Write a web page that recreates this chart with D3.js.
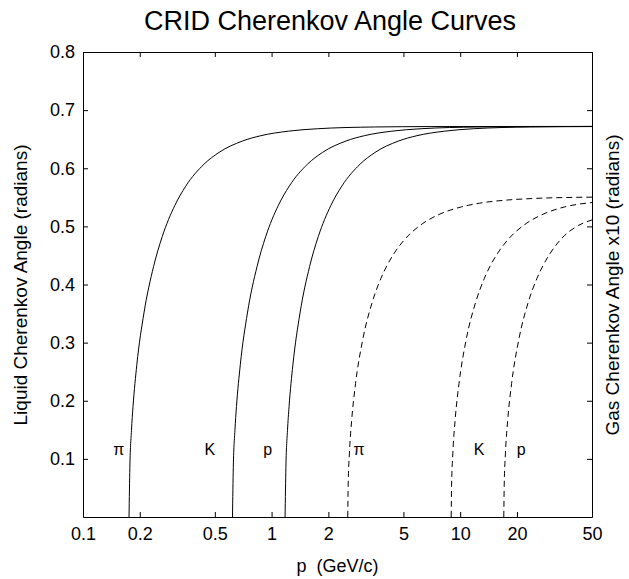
<!DOCTYPE html>
<html>
<head>
<meta charset="utf-8">
<script src="https://cdn.jsdelivr.net/npm/d3@7"></script>
<style>
  body { margin: 0; background: #fff; }
  text { font-family: "Liberation Sans", Arial, sans-serif; fill: #000; }
</style>
</head>
<body>
<div id="chart"></div>
<script>
// momentum p (GeV/c) and Cherenkov angle (radians)
const liquidPi = [[0.1754,0],[0.1772,0.0856],[0.1807,0.1486],[0.1842,0.1902],[0.1929,0.2618],[0.2105,0.3510],[0.2368,0.4311],[0.2631,0.4824],[0.3070,0.5361],[0.3508,0.5693],[0.4385,0.6071],[0.5262,0.6272],[0.7016,0.6469],[0.8770,0.6560],[1.228,0.6638],[1.754,0.6680],[3.508,0.6710],[7.016,0.6717],[50,0.6720]]
const liquidK = [[0.6204,0],[0.6266,0.0856],[0.6390,0.1486],[0.6514,0.1902],[0.6824,0.2618],[0.7445,0.3510],[0.8375,0.4311],[0.9306,0.4824],[1.086,0.5361],[1.241,0.5693],[1.551,0.6071],[1.861,0.6272],[2.482,0.6469],[3.102,0.6560],[4.343,0.6638],[6.204,0.6680],[12.41,0.6710],[24.82,0.6717],[50,0.6719]]
const liquidP = [[1.179,0],[1.191,0.0856],[1.214,0.1486],[1.238,0.1902],[1.297,0.2618],[1.415,0.3510],[1.591,0.4311],[1.768,0.4824],[2.063,0.5361],[2.358,0.5693],[2.947,0.6071],[3.536,0.6272],[4.715,0.6469],[5.894,0.6560],[8.252,0.6638],[11.79,0.6680],[23.58,0.6710],[50,0.6717]]

// gas angle x10 (radians)
const gasPi = [[2.534,0],[2.547,0.0549],[2.585,0.1086],[2.661,0.1680],[2.787,0.2295],[3.041,0.3046],[3.421,0.3702],[3.801,0.4107],[4.435,0.4522],[5.068,0.4772],[6.335,0.5050],[7.602,0.5195],[10.14,0.5335],[12.67,0.5399],[17.74,0.5453],[25.34,0.5482],[50,0.5503]]
const gasK = [[8.96,0],[9.005,0.0549],[9.139,0.1086],[9.408,0.1680],[9.856,0.2295],[10.75,0.3046],[12.10,0.3702],[13.44,0.4107],[15.68,0.4522],[17.92,0.4772],[22.40,0.5050],[26.88,0.5195],[35.84,0.5335],[50,0.5410]]
const gasP = [[17.03,0],[17.12,0.0549],[17.37,0.1086],[17.88,0.1680],[18.73,0.2295],[20.44,0.3046],[22.99,0.3702],[25.55,0.4107],[29.80,0.4522],[34.06,0.4772],[42.58,0.5020],[50,0.5110]]

const particleLabels = [
  { text: "π", p: 0.1547, v: 0.116 },
  { text: "K", p: 0.4705, v: 0.116 },
  { text: "p", p: 0.955, v: 0.116 },
  { text: "π", p: 2.907, v: 0.116 },
  { text: "K", p: 12.6, v: 0.116 },
  { text: "p", p: 21.05, v: 0.116 }
]

const xTicks = [0.1, 0.2, 0.5, 1, 2, 5, 10, 20, 50]
const yTicks = [0.1, 0.2, 0.3, 0.4, 0.5, 0.6, 0.7, 0.8]

const width = 629, height = 579
const margin = { top: 52, right: 37, bottom: 62, left: 83 }
const w = width - margin.left - margin.right
const h = height - margin.top - margin.bottom

const svg = d3.select("#chart").append("svg")
  .attr("width", width)
  .attr("height", height)

const g = svg.append("g")
  .attr("transform", "translate(" + margin.left + "," + margin.top + ")")

const x = d3.scaleLog().domain([0.1, 50]).range([0, w])
const y = d3.scaleLinear().domain([0, 0.8]).range([h, 0])

const fmt = d => String(d)

// axes, ticks pointing inward on all four sides
function styleAxis(sel) {
  sel.select(".domain").attr("stroke", "#000")
  sel.selectAll(".tick line").attr("stroke", "#000")
  sel.selectAll(".tick text").style("font-size", "18px")
}
g.append("g")
  .attr("transform", "translate(0," + h + ")")
  .call(d3.axisBottom(x).tickValues(xTicks).tickFormat(fmt).tickSizeInner(-5).tickSizeOuter(0).tickPadding(10))
  .call(styleAxis)
g.append("g")
  .call(d3.axisTop(x).tickValues(xTicks).tickFormat("").tickSizeInner(-5).tickSizeOuter(0))
  .call(styleAxis)
g.append("g")
  .call(d3.axisLeft(y).tickValues(yTicks).tickFormat(d3.format(".1f")).tickSizeInner(-5).tickSizeOuter(0).tickPadding(8))
  .call(styleAxis)
g.append("g")
  .attr("transform", "translate(" + w + ",0)")
  .call(d3.axisRight(y).tickValues(yTicks).tickFormat("").tickSizeInner(-5).tickSizeOuter(0))
  .call(styleAxis)

// curves
const line = d3.line()
  .x(d => x(d[0]))
  .y(d => y(d[1]))
  .curve(d3.curveMonotoneX)

const curves = [
  { data: liquidPi, dash: null },
  { data: liquidK, dash: null },
  { data: liquidP, dash: null },
  { data: gasPi, dash: "6,4" },
  { data: gasK, dash: "6,4" },
  { data: gasP, dash: "6,4" }
]
g.selectAll(".curve")
  .data(curves)
  .enter()
  .append("path")
    .attr("class", "curve")
    .attr("d", d => line(d.data))
    .attr("fill", "none")
    .attr("stroke", "#000")
    .attr("stroke-width", 1)
    .attr("stroke-dasharray", d => d.dash)

g.selectAll(".plabel")
  .data(particleLabels)
  .enter()
  .append("text")
    .attr("x", d => x(d.p))
    .attr("y", d => y(d.v))
    .attr("dy", "0.35em")
    .attr("text-anchor", "middle")
    .style("font-size", "16px")
    .text(d => d.text)

// titles
svg.append("text")
  .attr("x", 330)
  .attr("y", 30)
  .attr("text-anchor", "middle")
  .style("font-size", "27px")
  .text("CRID Cherenkov Angle Curves")

svg.append("text")
  .attr("x", margin.left + w / 2)
  .attr("y", 572)
  .attr("text-anchor", "middle")
  .style("font-size", "18px")
  .style("white-space", "pre")
  .text("p  (GeV/c)")

svg.append("text")
  .attr("transform", "translate(27,285)rotate(-90)")
  .attr("text-anchor", "middle")
  .style("font-size", "19px")
  .text("Liquid Cherenkov Angle (radians)")

svg.append("text")
  .attr("transform", "translate(619,285)rotate(-90)")
  .attr("text-anchor", "middle")
  .style("font-size", "19px")
  .text("Gas Cherenkov Angle x10 (radians)")
</script>
</body>
</html>
